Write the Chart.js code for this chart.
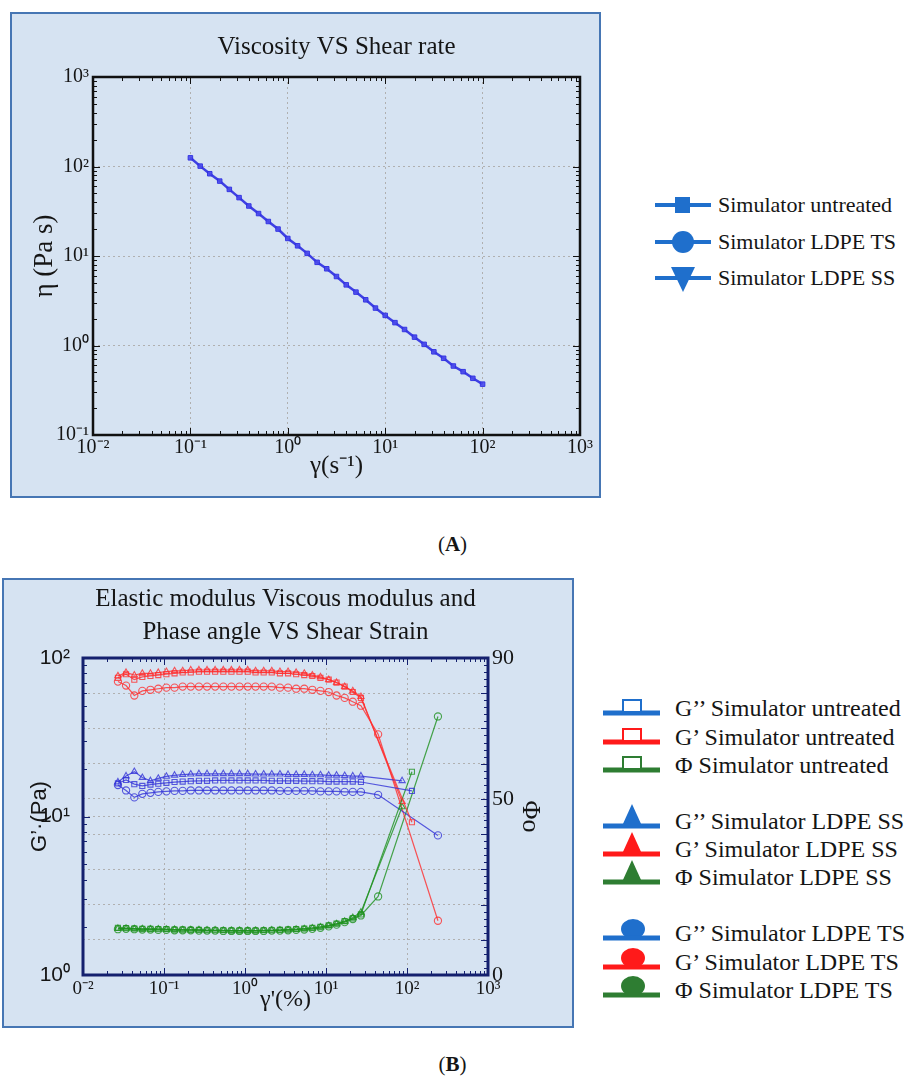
<!DOCTYPE html>
<html>
<head>
<meta charset="utf-8">
<title>Viscosity and modulus vs shear</title>
<script src="https://cdn.jsdelivr.net/npm/chart.js"></script>
<style>
  body { margin: 0; width: 915px; height: 1080px; position: relative; background: #fff; overflow: hidden;
         font-family: "Liberation Serif", "Times New Roman", serif; color: #151515; }
  .panel { position: absolute; box-sizing: border-box; background: #d6e3f2; border: 2px solid #4676b4; }
  canvas { position: absolute; }
  .row { position: absolute; display: flex; align-items: center; white-space: nowrap; }
  .row svg { flex: none; }
  .legA { left: 655px; height: 30px; font-size: 22px; }
  .legA span { margin-left: 7px; }
  .legB { left: 602px; height: 46px; font-size: 24px; }
  .legB span { margin-left: 11px; }
  .caption { position: absolute; left: 0; width: 905px; text-align: center; font-size: 21px; }
</style>
</head>
<body>
<div class="panel" style="left:10px;top:12px;width:591px;height:486px"></div>
<div class="panel" style="left:2px;top:578px;width:572px;height:450px"></div>
<canvas id="chartA" width="588" height="483" style="left:11px;top:13px"></canvas>
<canvas id="chartB" width="566" height="443" style="left:4px;top:581px"></canvas>

<!-- legend (A) -->
<div class="row legA" style="top:190px">
  <svg width="56" height="30"><line x1="0" y1="15" x2="56" y2="15" stroke="#1f6fcc" stroke-width="4"/><rect x="20" y="7" width="15" height="16" fill="#1f6fcc"/></svg>
  <span>Simulator untreated</span></div>
<div class="row legA" style="top:227px">
  <svg width="56" height="30"><line x1="0" y1="15" x2="56" y2="15" stroke="#1f6fcc" stroke-width="4"/><circle cx="28" cy="15" r="11" fill="#1f6fcc"/></svg>
  <span>Simulator LDPE TS</span></div>
<div class="row legA" style="top:263px">
  <svg width="56" height="30"><line x1="0" y1="15" x2="56" y2="15" stroke="#1f6fcc" stroke-width="4"/><polygon points="16,4 40,4 28,29" fill="#1f6fcc"/></svg>
  <span>Simulator LDPE SS</span></div>

<!-- legend (B) -->
<div class="row legB" style="top:685px">
  <svg width="62" height="46"><line x1="1" y1="28" x2="58" y2="28" stroke="#1f6fcc" stroke-width="5"/><rect x="21" y="15" width="18" height="12" fill="#fff" stroke="#1f6fcc" stroke-width="2"/></svg>
  <span>G’’ Simulator untreated</span></div>
<div class="row legB" style="top:714px">
  <svg width="62" height="46"><line x1="1" y1="28" x2="58" y2="28" stroke="#ff1a1a" stroke-width="5"/><rect x="21" y="15" width="18" height="12" fill="#fff" stroke="#ff1a1a" stroke-width="2"/></svg>
  <span>G’ Simulator untreated</span></div>
<div class="row legB" style="top:742px">
  <svg width="62" height="46"><line x1="1" y1="28" x2="58" y2="28" stroke="#2e7d32" stroke-width="5"/><rect x="21" y="15" width="18" height="12" fill="#fff" stroke="#2e7d32" stroke-width="2"/></svg>
  <span>Φ Simulator untreated</span></div>
<div class="row legB" style="top:798px">
  <svg width="62" height="46"><line x1="1" y1="28" x2="58" y2="28" stroke="#1f6fcc" stroke-width="5"/><polygon points="20,28 40,28 30,6" fill="#1f6fcc"/></svg>
  <span>G’’ Simulator LDPE SS</span></div>
<div class="row legB" style="top:826px">
  <svg width="62" height="46"><line x1="1" y1="28" x2="58" y2="28" stroke="#ff1a1a" stroke-width="5"/><polygon points="20,28 40,28 30,6" fill="#ff1a1a"/></svg>
  <span>G’ Simulator LDPE SS</span></div>
<div class="row legB" style="top:854px">
  <svg width="62" height="46"><line x1="1" y1="28" x2="58" y2="28" stroke="#2e7d32" stroke-width="5"/><polygon points="20,28 40,28 30,6" fill="#2e7d32"/></svg>
  <span>Φ Simulator LDPE SS</span></div>
<div class="row legB" style="top:910px">
  <svg width="62" height="46"><ellipse cx="31" cy="19" rx="12" ry="10" fill="#1f6fcc"/><line x1="1" y1="28" x2="58" y2="28" stroke="#1f6fcc" stroke-width="5"/></svg>
  <span>G’’ Simulator LDPE TS</span></div>
<div class="row legB" style="top:939px">
  <svg width="62" height="46"><ellipse cx="31" cy="19" rx="12" ry="10" fill="#ff1a1a"/><line x1="1" y1="28" x2="58" y2="28" stroke="#ff1a1a" stroke-width="5"/></svg>
  <span>G’ Simulator LDPE TS</span></div>
<div class="row legB" style="top:967px">
  <svg width="62" height="46"><ellipse cx="31" cy="19" rx="12" ry="10" fill="#2e7d32"/><line x1="1" y1="28" x2="58" y2="28" stroke="#2e7d32" stroke-width="5"/></svg>
  <span>Φ Simulator LDPE TS</span></div>

<div class="caption" style="top:532px">(<b>A</b>)</div>
<div class="caption" style="top:1052px">(<b>B</b>)</div>

<script>
// ---- panel A: viscosity vs shear rate ----
const shearRate = [0.1, 0.126, 0.158, 0.2, 0.251, 0.316, 0.398, 0.501, 0.631, 0.794,
  1, 1.26, 1.58, 2, 2.51, 3.16, 3.98, 5.01, 6.31, 7.94,
  10, 12.6, 15.8, 20, 25.1, 31.6, 39.8, 50.1, 63.1, 79.4, 100];
const viscosityUntreated = [125, 101, 83, 68.7, 55.5, 44.9, 36.2, 29.8, 24.3, 20,
  15.7, 13.0, 10.7, 8.5, 7.2, 5.9, 4.76, 3.95, 3.24, 2.62,
  2.17, 1.80, 1.51, 1.24, 1.03, 0.85, 0.72, 0.59, 0.51, 0.43, 0.37];

const xTicksA = [0.01, 0.1, 1, 10, 100, 1000];
const xLabelsA = ['10⁻²', '10⁻¹', '10⁰', '10¹', '10²', '10³'];
const yTicksA = [0.1, 1, 10, 100, 1000];
const yLabelsA = ['10⁻¹', '10⁰', '10¹', '10²', '10³'];

// ---- panel B: moduli and phase angle vs shear strain ----
const strainSweep = [0.027, 0.034, 0.043, 0.054, 0.068, 0.085, 0.107, 0.135, 0.17, 0.214,
  0.27, 0.34, 0.428, 0.54, 0.68, 0.855, 1.08, 1.35, 1.7, 2.14,
  2.7, 3.4, 4.28, 5.39, 6.78, 8.54, 10.8, 13.5, 17, 21.4, 27];
const strainEndUntreated = [115];
const strainEndSS = [87];
const strainEndTS = [44, 241];

const gPrimeUntreated = [75, 79, 73, 76, 77, 78, 79, 80, 81, 81, 82, 82, 82, 82, 82, 82, 82,
  81, 81, 81, 80, 80, 79, 78, 77, 75, 73, 70, 66, 61, 56, 9.2];
const gPrimeSS = [77, 81, 78, 80, 80, 81, 82, 83, 83, 84, 84, 84, 84, 84, 84, 84, 84,
  83, 83, 83, 82, 82, 81, 80, 78, 76, 73, 70, 66, 62, 57, 12.4];
const gPrimeTS = [71, 67, 58, 62, 63, 64, 65, 65, 66, 66, 66, 66, 66, 66, 66, 66, 66, 66, 66, 66,
  65, 65, 64, 64, 63, 62, 61, 58, 56, 53, 50, 33, 2.2];

const gDoublePrimeUntreated = [16.2, 17.0, 16.0, 15.6, 15.9, 16.1, 16.3, 16.5, 16.6, 16.7,
  16.8, 16.8, 16.9, 16.9, 16.9, 16.9, 16.9, 16.9, 16.9, 16.8, 16.8, 16.8, 16.8,
  16.7, 16.7, 16.7, 16.6, 16.6, 16.6, 16.6, 16.5, 14.5];
const gDoublePrimeSS = [16.5, 18.0, 19.2, 17.6, 16.8, 17.4, 17.9, 18.2, 18.4, 18.5,
  18.6, 18.6, 18.6, 18.6, 18.6, 18.6, 18.6, 18.5, 18.5, 18.5, 18.5,
  18.4, 18.4, 18.4, 18.3, 18.3, 18.2, 18.2, 18.1, 18.0, 18.0, 16.8];
const gDoublePrimeTS = [15.8, 14.6, 13.2, 13.9, 14.1, 14.3, 14.4, 14.5, 14.5,
  14.6, 14.6, 14.6, 14.6, 14.6, 14.6, 14.6, 14.6, 14.6, 14.6, 14.6,
  14.5, 14.5, 14.5, 14.5, 14.5, 14.4, 14.4, 14.4, 14.3, 14.3, 14.3, 13.7, 7.6];

const phaseUntreated = [13.4, 13.3, 13.2, 13.1, 13.1, 13.0, 13.0, 12.9, 12.9, 12.8,
  12.8, 12.7, 12.7, 12.7, 12.6, 12.6, 12.6, 12.6, 12.7, 12.7,
  12.8, 12.9, 13.0, 13.2, 13.4, 13.7, 14.1, 14.6, 15.3, 16.1, 17.2, 57.7];
const phaseSS = [13.2, 13.2, 13.1, 13.1, 13.0, 13.0, 12.9, 12.9, 12.8, 12.8,
  12.8, 12.7, 12.7, 12.6, 12.6, 12.6, 12.6, 12.6, 12.6, 12.7,
  12.7, 12.8, 12.9, 13.1, 13.3, 13.6, 14.0, 14.5, 15.2, 16.3, 17.8, 47.7];
const phaseTS = [13.0, 13.1, 13.0, 12.9, 12.9, 12.8, 12.8, 12.7, 12.7, 12.7,
  12.6, 12.6, 12.6, 12.5, 12.5, 12.5, 12.5, 12.5, 12.5, 12.6,
  12.6, 12.7, 12.8, 12.9, 13.1, 13.4, 13.8, 14.3, 15.0, 15.9, 16.9, 22.3, 73.4];

const xTicksB = [0.01, 0.1, 1, 10, 100, 1000];
const xLabelsB = ['0⁻²', '10⁻¹', '10⁰', '10¹', '10²', '10³'];
const yTicksB = [1, 10, 100];
const yLabelsB = ['10⁰', '10¹', '10²'];
const phaseLabels = [0, 50, 90];

const serif = '"Liberation Serif", "Times New Roman", serif';
const sans = '"Liberation Sans", Arial, sans-serif';

const pairUp = (xs, ys) => xs.map((x, i) => ({ x: x, y: ys[i] }));
const fixTicks = list => scale => { scale.ticks = list.map(v => ({ value: v })); };

// inward tick marks along the frame, then the frame itself
const frameTicks = {
  id: 'frameTicks',
  afterDraw(chart, args, opts) {
    const ctx = chart.ctx, a = chart.chartArea;
    const decades = scale => {
      const out = [];
      for (let e = Math.round(Math.log10(scale.min)); e < Math.round(Math.log10(scale.max)); e++) {
        for (let k = 1; k < 10; k++) out.push([k * Math.pow(10, e), k === 1]);
      }
      return out;
    };
    ctx.save();
    ctx.strokeStyle = opts.color;
    ctx.lineWidth = 1;
    const x = chart.scales.x;
    decades(x).forEach(([v, major]) => {
      const p = Math.round(x.getPixelForValue(v)) + 0.5, len = major ? 7 : 4;
      ctx.beginPath();
      ctx.moveTo(p, a.bottom); ctx.lineTo(p, a.bottom - len);
      ctx.moveTo(p, a.top); ctx.lineTo(p, a.top + len);
      ctx.stroke();
    });
    const y = chart.scales.y, y2 = chart.scales.y2;
    decades(y).forEach(([v, major]) => {
      const p = Math.round(y.getPixelForValue(v)) + 0.5, len = major ? 7 : 4;
      ctx.beginPath();
      ctx.moveTo(a.left, p); ctx.lineTo(a.left + len, p);
      if (!y2) { ctx.moveTo(a.right, p); ctx.lineTo(a.right - len, p); }
      ctx.stroke();
    });
    if (y2) {
      for (let v = y2.min; v <= y2.max; v += 2) {
        const p = Math.round(y2.getPixelForValue(v)) + 0.5, len = v % 10 === 0 ? 7 : 4;
        ctx.beginPath();
        ctx.moveTo(a.right, p); ctx.lineTo(a.right - len, p);
        ctx.stroke();
      }
    }
    ctx.lineWidth = opts.width;
    ctx.strokeRect(a.left, a.top, a.right - a.left, a.bottom - a.top);
    ctx.restore();
  }
};

const gridStyle = { color: '#b0b0b0', lineWidth: 1, drawTicks: false };
const dotted = { display: false, dash: [2, 3] };

new Chart(document.getElementById('chartA'), {
  type: 'line',
  data: {
    datasets: [{
      label: 'Simulator untreated',
      data: pairUp(shearRate, viscosityUntreated),
      borderColor: 'rgba(45,45,225,0.9)',
      borderWidth: 2.5,
      pointStyle: 'rect',
      pointRadius: 3.2,
      pointBackgroundColor: 'rgba(75,75,235,0.9)',
      pointBorderColor: 'rgba(45,45,225,0.9)',
      pointBorderWidth: 1
    }]
  },
  options: {
    responsive: false,
    animation: false,
    devicePixelRatio: 1,
    layout: { padding: { top: 0, right: 19, bottom: 0, left: 0 } },
    plugins: {
      legend: { display: false },
      tooltip: { enabled: false },
      title: {
        display: true, fullSize: false,
        text: 'Viscosity VS Shear rate',
        color: '#151515',
        font: { family: serif, size: 25, weight: 'normal' },
        padding: { top: 19, bottom: 15 }
      },
      frameTicks: { color: '#111', width: 2.5 }
    },
    scales: {
      x: {
        type: 'logarithmic', position: 'bottom', min: 0.01, max: 1000,
        afterBuildTicks: fixTicks(xTicksA),
        afterFit: s => { s.height = 61; },
        ticks: { autoSkip: false, maxRotation: 0, padding: 1, color: '#151515',
                 font: { family: serif, size: 20 }, callback: (v, i) => xLabelsA[i] },
        grid: gridStyle, border: dotted,
        title: { display: true, text: 'γ(s⁻¹)', color: '#151515',
                 font: { family: serif, size: 25 }, padding: { top: 0, bottom: 15 } }
      },
      y: {
        type: 'logarithmic', position: 'left', min: 0.1, max: 1000,
        afterBuildTicks: fixTicks(yTicksA),
        afterFit: s => { s.width = 82; },
        ticks: { autoSkip: false, padding: 4, color: '#151515',
                 font: { family: serif, size: 20 }, callback: (v, i) => yLabelsA[i] },
        grid: gridStyle, border: dotted,
        title: { display: true, text: 'η (Pa s)', color: '#151515',
                 font: { family: serif, size: 27 }, padding: { top: 18, bottom: 0 } }
      }
    }
  },
  plugins: [frameTicks]
});

const red = 'rgba(255,45,45,0.8)', blue = 'rgba(50,50,215,0.8)', green = 'rgba(30,145,30,0.8)';
const strainUntreated = strainSweep.concat(strainEndUntreated);
const strainSS = strainSweep.concat(strainEndSS);
const strainTS = strainSweep.concat(strainEndTS);

const seriesB = [
  ['G’’ Simulator untreated', strainUntreated, gDoublePrimeUntreated, blue, 'rect', 'y'],
  ['G’ Simulator untreated', strainUntreated, gPrimeUntreated, red, 'rect', 'y'],
  ['Φ Simulator untreated', strainUntreated, phaseUntreated, green, 'rect', 'y2'],
  ['G’’ Simulator LDPE SS', strainSS, gDoublePrimeSS, blue, 'triangle', 'y'],
  ['G’ Simulator LDPE SS', strainSS, gPrimeSS, red, 'triangle', 'y'],
  ['Φ Simulator LDPE SS', strainSS, phaseSS, green, 'triangle', 'y2'],
  ['G’’ Simulator LDPE TS', strainTS, gDoublePrimeTS, blue, 'circle', 'y'],
  ['G’ Simulator LDPE TS', strainTS, gPrimeTS, red, 'circle', 'y'],
  ['Φ Simulator LDPE TS', strainTS, phaseTS, green, 'circle', 'y2']
];

new Chart(document.getElementById('chartB'), {
  type: 'line',
  data: {
    datasets: seriesB.map(([label, xs, ys, color, marker, axis]) => ({
      label: label,
      data: pairUp(xs, ys),
      yAxisID: axis,
      borderColor: color,
      borderWidth: 1.2,
      pointStyle: marker,
      pointRadius: 3.6,
      pointBorderWidth: 1.1,
      pointBorderColor: color,
      pointBackgroundColor: 'rgba(255,255,255,0)'
    }))
  },
  options: {
    responsive: false,
    animation: false,
    devicePixelRatio: 1,
    layout: { padding: 0 },
    plugins: {
      legend: { display: false },
      tooltip: { enabled: false },
      title: {
        display: true, fullSize: false,
        text: ['Elastic modulus Viscous modulus and', 'Phase angle VS Shear Strain'],
        color: '#151515',
        font: { family: serif, size: 25, weight: 'normal', lineHeight: 1.32 },
        padding: { top: 1.5, bottom: 9.5 }
      },
      frameTicks: { color: '#14206e', width: 3 }
    },
    scales: {
      x: {
        type: 'logarithmic', position: 'bottom', min: 0.01, max: 1000,
        afterBuildTicks: fixTicks(xTicksB),
        afterFit: s => { s.height = 49; },
        ticks: { autoSkip: false, maxRotation: 0, padding: 3, color: '#151515',
                 font: { family: serif, size: 19 }, callback: (v, i) => xLabelsB[i] },
        grid: gridStyle, border: dotted,
        title: { display: true, text: 'γ\'(%)', color: '#151515',
                 font: { family: serif, size: 24 }, padding: { top: 0, bottom: 9.6 } }
      },
      y: {
        type: 'logarithmic', position: 'left', min: 1, max: 100,
        afterBuildTicks: fixTicks(yTicksB),
        afterFit: s => { s.width = 79; },
        ticks: { autoSkip: false, padding: 13, color: '#151515',
                 font: { family: sans, size: 21 }, callback: (v, i) => yLabelsB[i] },
        grid: gridStyle, border: dotted,
        title: { display: true, text: 'G’·(Pa)', color: '#151515',
                 font: { family: sans, size: 22 }, padding: { top: 22.8, bottom: 0 } }
      },
      y2: {
        type: 'linear', position: 'right', min: 0, max: 90,
        afterFit: s => { s.width = 82; },
        ticks: { stepSize: 10, autoSkip: false, padding: 4, color: '#151515',
                 font: { family: serif, size: 22 },
                 callback: v => (phaseLabels.includes(v) ? String(v) : '') },
        grid: gridStyle, border: dotted,
        title: { display: true, text: 'Φo', color: '#151515',
                 font: { family: serif, size: 26 }, padding: { top: 24.4, bottom: 0 } }
      }
    }
  },
  plugins: [frameTicks]
});
</script>
</body>
</html>
